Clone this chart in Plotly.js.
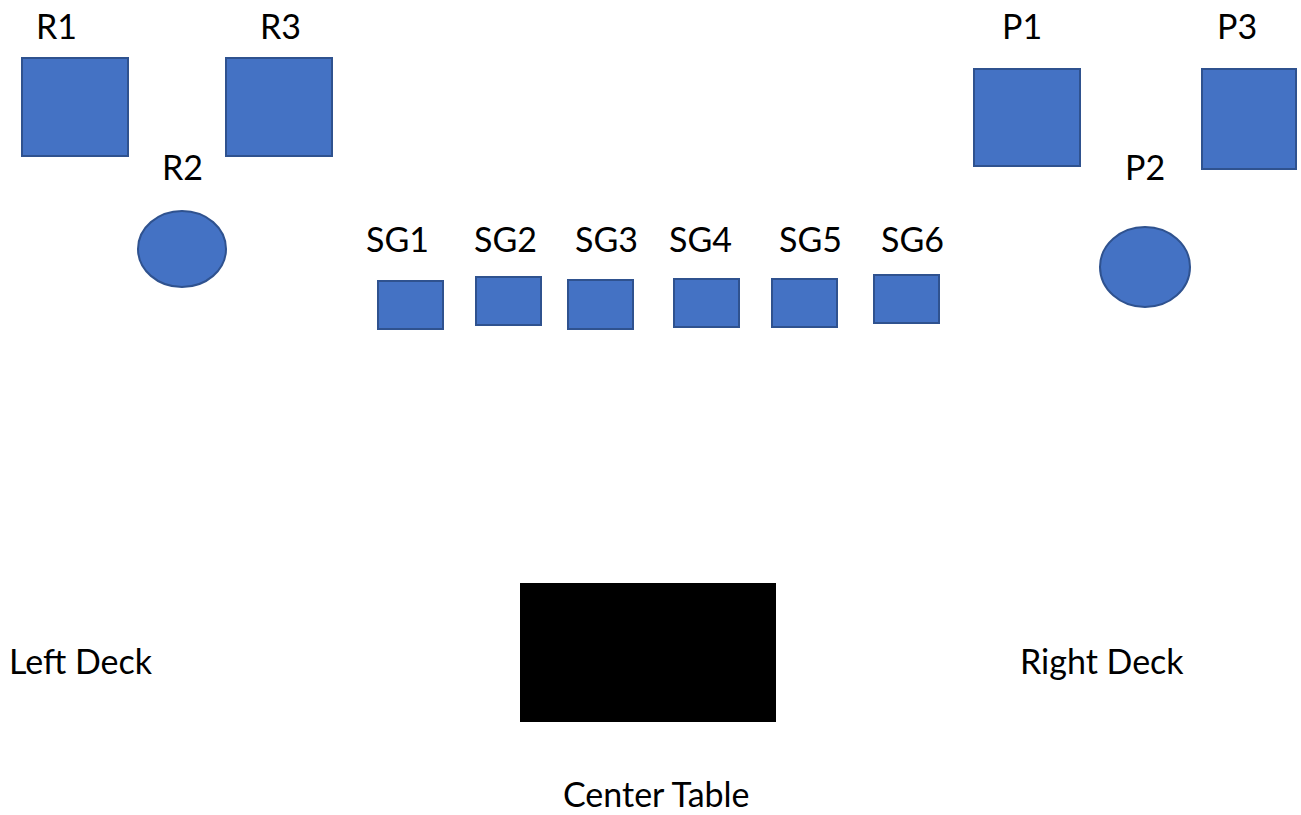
<!DOCTYPE html>
<html>
<head>
<meta charset="utf-8">
<script src="https://cdn.plot.ly/plotly-3.0.1.min.js"></script>
<style>html,body{margin:0;padding:0;background:#fff;}#chart{width:1301px;height:815px;}</style>
</head>
<body>
<div id="chart"></div>
<script>
// Elements of the layout (diagram units = reference pixels)
const names    = ["R1","R3","R2","SG1","SG2","SG3","SG4","SG5","SG6","P1","P3","P2","Center Table"];
const kinds    = ["rect","rect","circle","rect","rect","rect","rect","rect","rect","rect","rect","circle","table"];
const leftX    = [22, 226, 138, 378, 476, 568, 674, 772, 874, 974, 1202, 1100, 520];
const rightX   = [128, 332, 226, 443, 541, 633, 739, 837, 939, 1080, 1296, 1190, 776];
const topY     = [58, 58, 211, 281, 277, 280, 279, 279, 275, 69, 69, 227, 583];
const bottomY  = [156, 156, 287, 329, 325, 329, 327, 327, 323, 166, 169, 307, 722];

// Text labels
const labelText = ["R1","R3","R2","SG1","SG2","SG3","SG4","SG5","SG6","P1","P3","P2","Left Deck","Right Deck","Center Table"];
const labelX    = [56, 280, 182, 397, 505, 606, 700, 810, 912, 1022, 1237, 1145, 81, 1102, 656];
const labelY    = [25, 25, 166, 238, 238, 238, 238, 238, 238, 25, 25, 166, 660, 660, 815];

const blueFill = "#4472C4", blueLine = "#2F528F";
const shapes = names.map((n, i) => ({
  type: kinds[i] === "circle" ? "circle" : "rect",
  xref: "x", yref: "y",
  x0: leftX[i], x1: rightX[i], y0: topY[i], y1: bottomY[i],
  fillcolor: kinds[i] === "table" ? "#000000" : blueFill,
  line: {color: kinds[i] === "table" ? "#000000" : blueLine, width: kinds[i] === "table" ? 0 : 2},
  layer: "above"
}));

const annotations = labelText.map((t, i) => ({
  text: t, x: labelX[i], y: labelY[i], xref: "x", yref: "y",
  showarrow: false, xanchor: "center",
  yanchor: t === "Center Table" ? "bottom" : "middle",
  borderpad: 0,
  font: {family: "Lato, 'Open Sans', sans-serif", size: 34, color: "#000000"}
}));

const layout = {
  width: 1301, height: 815,
  margin: {l: 0, r: 0, t: 0, b: 0, pad: 0},
  paper_bgcolor: "#ffffff", plot_bgcolor: "#ffffff",
  xaxis: {range: [0, 1301], visible: false, fixedrange: true},
  yaxis: {range: [815, 0], visible: false, fixedrange: true},
  showlegend: false,
  shapes: shapes,
  annotations: annotations
};

Plotly.newPlot("chart", [{x: [], y: [], type: "scatter", mode: "markers", hoverinfo: "skip"}], layout, {staticPlot: true, displayModeBar: false});
</script>
</body>
</html>
